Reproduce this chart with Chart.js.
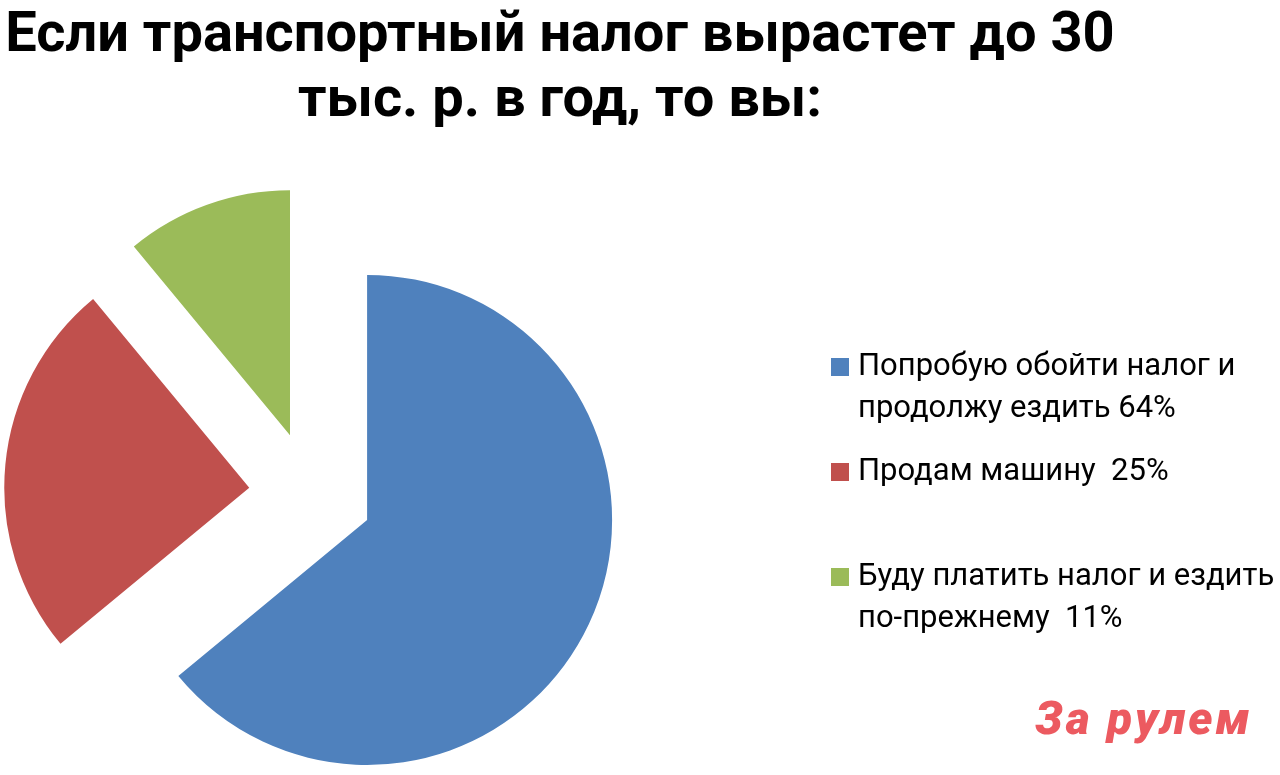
<!DOCTYPE html>
<html lang="ru">
<head>
<meta charset="utf-8">
<title>Транспортный налог</title>
<script src="https://cdn.jsdelivr.net/npm/chart.js@4"></script>
<style>
  html, body { margin: 0; padding: 0; background: #fff; }
  #page { position: relative; width: 1280px; height: 775px; overflow: hidden; }
  #chartBox { position: absolute; left: 0; top: 0; width: 1280px; height: 775px; }
  #title {
    position: absolute; left: 0; top: 0; width: 1120px;
    text-align: center; font-family: Roboto, sans-serif; font-weight: bold;
    font-size: 56px; line-height: 65px; color: #000;
  }
  #legend { position: absolute; left: 831px; top: 344px; }
  .item { position: absolute; left: 0; height: 105px; white-space: pre;
    font-family: Roboto, sans-serif; font-size: 31px; line-height: 42px; color: #000; }
  .item .box { position: absolute; left: 0; top: 14px; width: 18px; height: 18px; }
  .item .text { position: absolute; left: 27px; top: 0; }
  #logo {
    position: absolute; left: 1035px; top: 695px;
    font-family: Roboto, sans-serif; font-weight: 900; font-style: italic;
    font-size: 46px; line-height: 46px; color: #ec5a60; letter-spacing: 3px;
  }
</style>
</head>
<body>
<div id="page">
  <div id="chartBox"><canvas id="pieChart"></canvas></div>
  <div id="title"></div>
  <div id="legend"></div>
  <div id="logo">За рулем</div>
</div>
<script>
// Chart data
const titleLines = ["Если транспортный налог вырастет до 30", "тыс. р. в год, то вы:"];
const answers = [
  ["Попробую обойти налог и", "продолжу ездить 64%"],
  ["Продам машину  25%"],
  ["Буду платить налог и ездить", "по-прежнему  11%"]
];
const shares = [64, 25, 11];
const sliceColors = ["#4f81bd", "#c0504d", "#9bbb59"];

// Title
document.getElementById("title").innerHTML = titleLines.join("<br>");

// Legend (built from the same arrays)
const legend = document.getElementById("legend");
answers.forEach((lines, i) => {
  const item = document.createElement("div");
  item.className = "item";
  item.style.top = (i * 105) + "px";
  item.innerHTML = `<span class="box" style="background:${sliceColors[i]}"></span>` +
    `<span class="text">${lines.join("\n")}</span>`;
  legend.appendChild(item);
});

// Pulls every slice out from the centre along its bisector
const explodePlugin = {
  id: "explode",
  beforeDatasetDraw(chart, args, opts) {
    const ctx = chart.ctx;
    args.meta.data.forEach(arc => {
      const mid = (arc.startAngle + arc.endAngle) / 2;
      ctx.save();
      ctx.translate(Math.cos(mid) * opts.distance, Math.sin(mid) * opts.distance);
      arc.draw(ctx);
      ctx.restore();
    });
    return false;
  }
};

new Chart(document.getElementById("pieChart"), {
  type: "pie",
  data: {
    labels: answers.map(l => l.join(" ")),
    datasets: [{
      data: shares,
      backgroundColor: sliceColors,
      borderWidth: 0
    }]
  },
  options: {
    responsive: true,
    maintainAspectRatio: false,
    animation: false,
    radius: 245,
    layout: { padding: { left: 0, right: 658, top: 212, bottom: 0 } },
    plugins: {
      legend: { display: false },
      tooltip: { enabled: false },
      explode: { distance: 62 }
    }
  },
  plugins: [explodePlugin]
});
</script>
</body>
</html>
